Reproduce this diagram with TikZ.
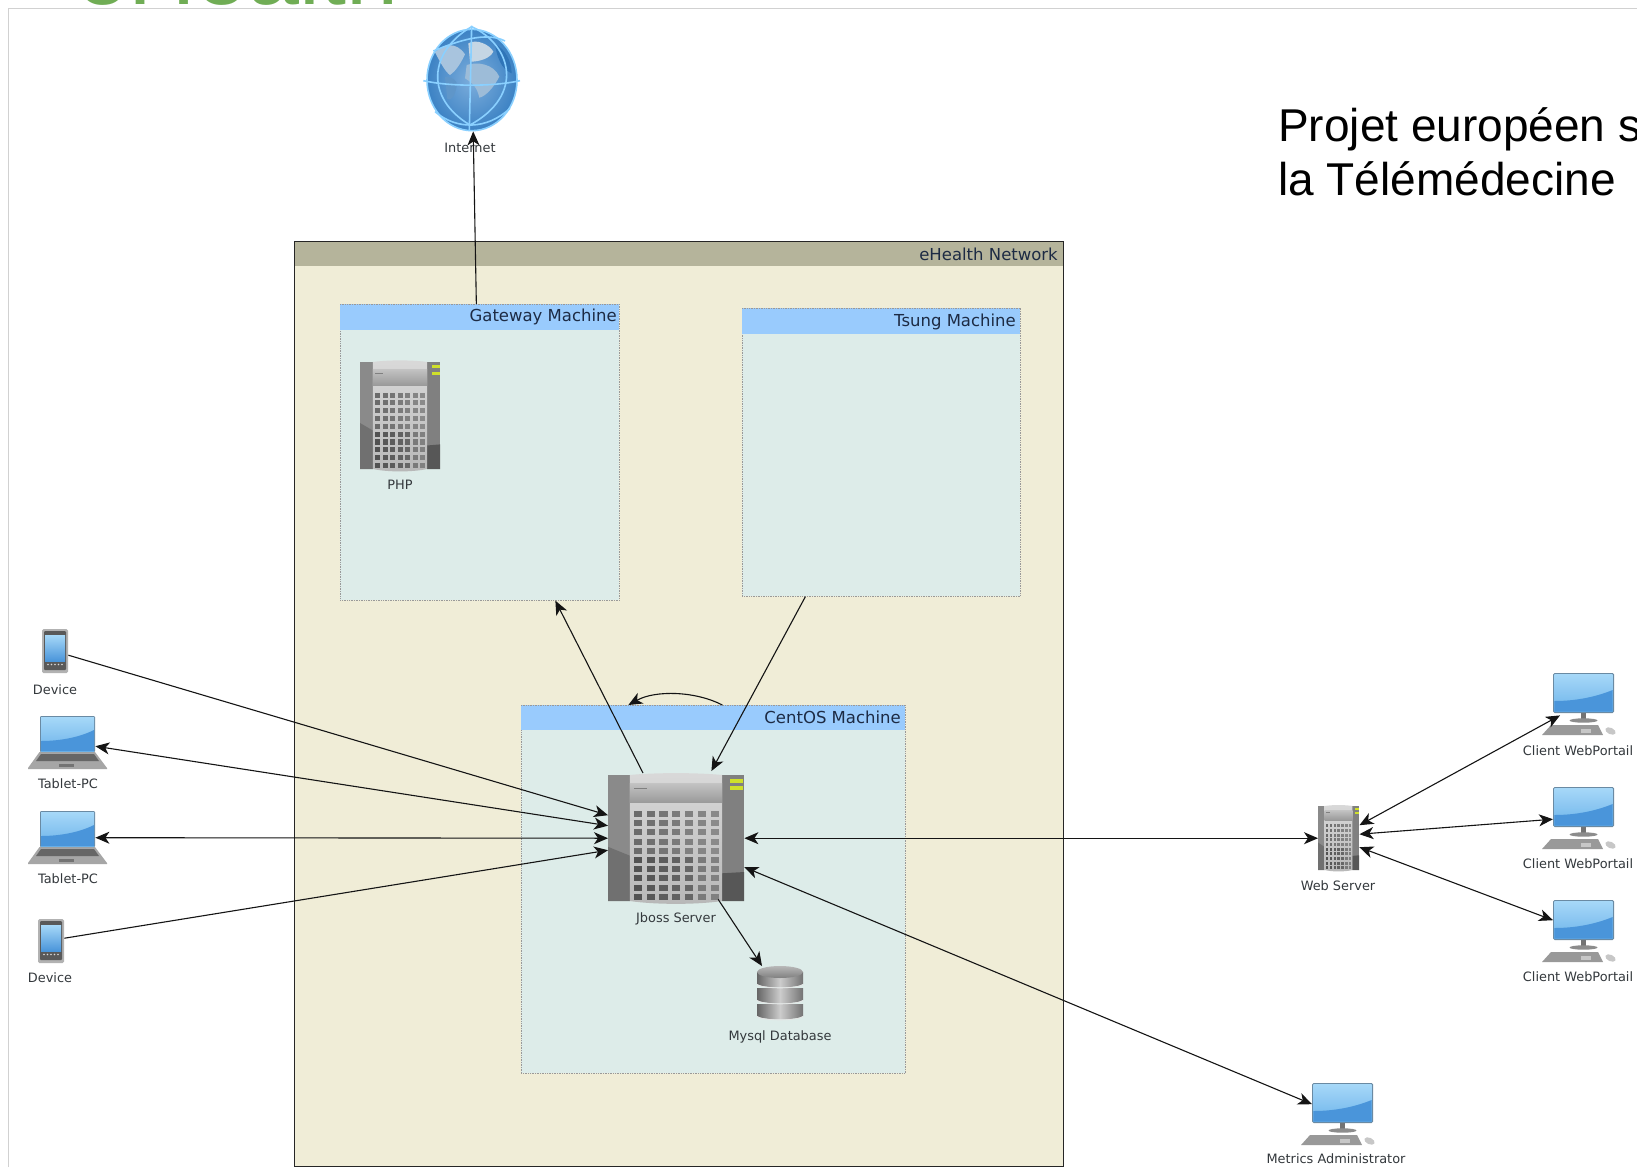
\documentclass[tikz,border=0pt]{standalone}
\usepackage{fontspec}
\setmainfont{Liberation Sans}
\newfontfamily\lblfont{DejaVu Sans}
\usetikzlibrary{arrows.meta,calc}
\definecolor{netbg}{HTML}{F0EDD7}
\definecolor{nethd}{HTML}{B5B49B}
\definecolor{machbg}{HTML}{DDECE9}
\definecolor{machhd}{HTML}{99CBFD}
\definecolor{lbltxt}{HTML}{33383C}
\definecolor{hdrtxt}{HTML}{1D2B44}
\definecolor{linkc}{HTML}{141414}
\definecolor{scrTop}{HTML}{A6D8F8}
\definecolor{scrBot}{HTML}{6DB3EA}
\definecolor{scrLow}{HTML}{4A95DA}
\definecolor{scrEdge}{HTML}{6A8AA3}
\definecolor{ehgreen}{HTML}{70AD55}
\definecolor{ledc}{HTML}{CFE02A}
\definecolor{gbIn}{HTML}{7DAEDC}
\definecolor{gbOut}{HTML}{3C82C4}
\definecolor{gbLine}{HTML}{8AD0FF}
\definecolor{gbAf}{HTML}{9DBCD8}
\definecolor{gbEu}{HTML}{C5D6E4}
\definecolor{gbNa}{HTML}{A8C4DE}
\definecolor{gbSa}{HTML}{5F96C9}
\definecolor{gbAs}{HTML}{2F75B8}
\tikzset{
  netbox/.style={draw=black!85,line width=1pt,fill=netbg,minimum width=#1,inner sep=0pt,anchor=north west},
  machbox/.style={draw=black!40,densely dotted,line width=.7pt,fill=machbg,inner sep=0pt,anchor=north west},
  hdrbar/.style={inner sep=0pt,anchor=north west},
  machbar/.style={fill=machhd,inner sep=0pt,anchor=north west},
  machedge/.style={draw=black!40,densely dotted,line width=.7pt},
  hdrtext/.style={font=\lblfont\fontsize{16.5}{18}\selectfont,text=hdrtxt,anchor=east,inner sep=0pt},
  lbl/.style={font=\lblfont\fontsize{12.9}{15}\selectfont,text=lbltxt,inner sep=0pt},
  iconbox/.style={inner sep=0pt,anchor=north west},
  link/.style={draw=linkc,line width=1.1pt,-{Stealth[length=14pt,width=12pt,inset=4pt]}},
  dlink/.style={draw=linkc,line width=1.1pt,{Stealth[length=14pt,width=12pt,inset=4pt]}-{Stealth[length=14pt,width=12pt,inset=4pt]}},
  slide/.style={font=\fontsize{46}{54}\selectfont,text=black,inner sep=0pt,anchor=base west},
  gbstroke/.style={draw=gbLine,line width=1.6pt},
}
% server icon drawn in a 100x100 box
\newcommand\servericon[5]{%
  \node[iconbox,minimum width=#4pt,minimum height=#5pt] (#1) at (#2,#3) {};
  \begin{scope}[shift={(#2,#3)},xscale=#4/100,yscale=#5/100]
    \fill[black!46] (0,0) rectangle (16,100);
    \fill[black!56] (0,57) -- (16,64) -- (16,100) -- (0,100) -- cycle;
    \fill[black!50] (84,0) rectangle (100,100);
    \fill[black!66] (84,78) -- (100,77) -- (100,100) -- (84,100) -- cycle;
    \shade[top color=black!15,bottom color=black!28] (16,0) .. controls (35,-2) and (65,-2) .. (84,0) -- (84,100) .. controls (65,103) and (35,103) .. (16,100) -- cycle;
    \shade[top color=black!24,bottom color=black!40] (16,7) rectangle (84,22);
    \fill[black!50] (19,10) rectangle (29,11.2);
    \foreach \i in {0,...,6}{
      \foreach \j in {0,...,9}{
        \pgfmathsetmacro\shadeval{58-2.0*\i+(\j>4?10:0)-(\j>4&&\i>4?6:0)}
        \fill[black!\shadeval] ({19+9.4*\i},{28.5+7.3*\j}) rectangle ++(6,4.8);
      }
    }
    \fill[ledc] (90,3) rectangle (99.5,6);
    \fill[ledc] (90,9) rectangle (99.5,12);
  \end{scope}
}
% desktop: the node is the screen (61 x 40); stand, keyboard and mouse hang below it
\newcommand\desktopicon[3]{%
  \node[iconbox,minimum width=61pt,minimum height=40pt] (#1) at (#2,#3) {};
  \begin{scope}[shift={(#2,#3)}]
    \fill[black!55] (28,40) rectangle (33,47);
    \fill[black!45] (30.5,47.5) ellipse (14 and 2.2);
    \fill[black!40] (-2,52) -- (45,52) -- (50,62) -- (-11,62) -- cycle;
    \fill[black!22] (38,56) rectangle (28,60);
    \fill[black!22,rotate around={-25:(57.5,58)}] (57.5,58) ellipse (5.5 and 3.2);
    \fill[rounded corners=1.5pt,fill=scrEdge] (0,0) rectangle (61,40);
    \shade[top color=scrTop,bottom color=scrBot] (1.3,1.3) rectangle (59.7,38.7);
    \fill[scrLow] (1.3,28) .. controls (20,28) and (40,25) .. (59.7,17) -- (59.7,38.7) -- (1.3,38.7) -- cycle;
  \end{scope}
}
% laptop in a 79 x 53 box
\newcommand\laptopicon[3]{%
  \node[iconbox,minimum width=79pt,minimum height=53pt] (#1) at (#2,#3) {};
  \begin{scope}[shift={(#2,#3)}]
    \fill[black!35] (11.5,36) -- (67,36) -- (79,52) -- (79,53) -- (0,53) -- (0,52) -- cycle;
    \fill[black!60] (13,38) -- (66,38) -- (71,45) -- (8,45) -- cycle;
    \fill[black!55] (31,47.5) rectangle (46,51);
    \fill[rounded corners=1pt,fill=scrEdge] (12,0) rectangle (67,36);
    \shade[top color=scrTop,bottom color=scrBot] (13,1) rectangle (66,35);
    \fill[scrLow] (13,25) .. controls (30,25) and (50,22) .. (66,14) -- (66,35) -- (13,35) -- cycle;
  \end{scope}
}
% phone in a 26 x 44 box
\newcommand\phoneicon[3]{%
  \node[iconbox,minimum width=26pt,minimum height=44pt] (#1) at (#2,#3) {};
  \begin{scope}[shift={(#2,#3)}]
    \fill[rounded corners=1.5pt,black!30] (0,0) rectangle (26,44);
    \fill[rounded corners=1pt,black!65] (2,2) rectangle (24,41);
    \shade[top color=scrTop,bottom color=scrLow] (3,6) rectangle (23,32);
    \foreach \k in {0,...,4}{\fill[white!85!black] ({6+3.5*\k},35.5) circle (.8);}
  \end{scope}
}
% database in a 46 x 55 box
\newcommand\dbicon[3]{%
  \node[iconbox,minimum width=46pt,minimum height=55pt] (#1) at (#2,#3) {};
  \begin{scope}[shift={(#2,#3)}]
    \foreach \tt in {38,22,6}{
      \shade[left color=black!60,right color=black!55,middle color=black!20]
        (0,\tt) -- (46,\tt) -- (46,\tt+12) .. controls (40,\tt+16.5) and (6,\tt+16.5) .. (0,\tt+12) -- cycle;
      \draw[black!10,line width=.8pt] (46,\tt+12.5) .. controls (40,\tt+17) and (6,\tt+17) .. (0,\tt+12.5);
    }
    \shade[top color=black!28,bottom color=black!50] (23,6) ellipse (23 and 6);
  \end{scope}
}
\begin{document}
\begin{tikzpicture}[x=1pt,y=-1pt]
\useasboundingbox (0,0) rectangle (1637,1167);
\fill[white] (0,0) rectangle (1637,1167);

% slide furniture
\node[font=\fontsize{93.5}{94}\selectfont,text=ehgreen,inner sep=0pt,anchor=base west] (title) at (76,5) {eHealth};
\draw[black!18,line width=1pt] (8,1167) -- (8,8) -- (1637,8);
\node[slide] (slideone) at (1278,141) {Projet européen s};
\node[slide] (slidetwo) at (1278,195) {la Télémédecine};

% network container
\node[netbox=769pt,minimum height=925pt] (net) at (294,241) {};
\node[hdrbar,fill=nethd,minimum width=768pt,minimum height=24pt] (nethead) at (294.5,241.5) {};
\node[hdrtext] (nettitle) at (1058,254) {eHealth Network};

% machines
\node[machbox,minimum width=279pt,minimum height=296pt] (gw) at (340,304) {};
\node[machbar,minimum width=279pt,minimum height=26pt] (gwhead) at (340,304) {};
\draw[machedge] (gw.north west) -- (gw.north east);
\node[hdrtext] (gwtitle) at (617,317) {Gateway Machine};

\node[machbox,minimum width=278pt,minimum height=288pt] (tsung) at (742,308) {};
\node[machbar,minimum width=278pt,minimum height=26pt] (tsunghead) at (742,308) {};
\draw[machedge] (tsung.north west) -- (tsung.north east);
\node[hdrtext] (tsungtitle) at (1016,322) {Tsung Machine};

\node[machbox,minimum width=384pt,minimum height=368pt] (cent) at (521,705) {};
\node[machbar,minimum width=384pt,minimum height=25pt] (centhead) at (521,705) {};
\draw[machedge] (cent.north west) -- (cent.north east);
\node[hdrtext] (centtitle) at (901,717) {CentOS Machine};

% globe
\node[iconbox,minimum width=90pt,minimum height=104pt] (globe) at (427,27) {};
\begin{scope}[shift={(410,15)},xscale=1/3,yscale=1/3]
  \shade[inner color=gbIn,outer color=gbOut] (186,195) ellipse (135 and 152);
  \fill[gbNa] (75,112) .. controls (100,85) and (140,80) .. (165,118) .. controls (150,150) and (135,170) .. (120,180) .. controls (105,170) and (90,140) .. (75,112) -- cycle;
  \fill[gbEu] (175,85) .. controls (200,70) and (240,90) .. (250,110) .. controls (240,130) and (210,140) .. (180,140) -- cycle;
  \fill[gbAf] (170,150) .. controls (200,140) and (250,145) .. (268,185) .. controls (250,220) and (225,245) .. (208,248) .. controls (200,210) and (180,200) .. (165,190) -- cycle;
  \fill[gbSa] (105,186) .. controls (125,185) and (145,195) .. (140,215) .. controls (135,240) and (125,260) .. (112,252) -- cycle;
  \fill[gbAs] (255,88) .. controls (285,100) and (305,140) .. (305,175) .. controls (285,165) and (265,150) .. (255,88) -- cycle;
  \draw[gbstroke] (40,197) .. controls (120,215) and (250,215) .. (330,197);
  \draw[gbstroke] (185,32) -- (178,345);
  \draw[gbstroke] (185,35) .. controls (55,110) and (45,250) .. (180,330);
  \draw[gbstroke] (185,35) .. controls (305,90) and (345,240) .. (180,330);
  \draw[gbstroke] (70,108) .. controls (150,75) and (230,50) .. (285,78);
  \draw[gbstroke] (75,290) .. controls (140,345) and (230,345) .. (300,280);
  \draw[gbstroke] (186,195) ellipse (135 and 152);
\end{scope}
\node[lbl] (internetl) at (470,148) {Internet};

% servers and database
\servericon{php}{360}{362}{80}{107}
\node[lbl] (phpl) at (400,484.5) {PHP};
\servericon{jboss}{608}{775}{136}{126}
\node[lbl] (jbossl) at (676,919) {Jboss Server};
\dbicon{mysql}{757}{966}
\node[lbl] (mysqll) at (780,1037) {Mysql Database};
\servericon{web}{1318}{806}{41}{64}
\node[lbl] (webl) at (1338,886) {Web Server};

% left devices
\phoneicon{devone}{42}{629}
\node[lbl] (devonel) at (55,690) {Device};
\laptopicon{tabone}{28}{716}
\node[lbl] (tabonel) at (68,784) {Tablet-PC};
\laptopicon{tabtwo}{28}{811}
\node[lbl] (tabtwol) at (68,879) {Tablet-PC};
\phoneicon{devtwo}{38}{919}
\node[lbl] (devtwol) at (50,978) {Device};

% right clients
\desktopicon{cone}{1553}{673}
\node[lbl] (conel) at (1578,751) {Client WebPortail};
\desktopicon{ctwo}{1553}{787}
\node[lbl] (ctwol) at (1578,864) {Client WebPortail};
\desktopicon{cthree}{1553}{900}
\node[lbl] (cthreel) at (1578,977) {Client WebPortail};
\desktopicon{metrics}{1312}{1083}
\node[lbl] (metricsl) at (1336,1159) {Metrics Administrator};

% connectors
\draw[link] ([xshift=-3.5pt]gw.north) -- ([xshift=1pt]globe.south);
\draw[link] ([xshift=35pt,yshift=2pt]jboss.north west) -- ([xshift=75.5pt]gw.south);
\draw[link] ([xshift=-76pt]tsung.south) -- ([xshift=-33pt,yshift=4pt]jboss.north east);
\draw[link] ([xshift=9pt]cent.north) .. controls ([xshift=-18pt,yshift=14pt]cent.north) and ([xshift=-58pt,yshift=15pt]cent.north) .. ([xshift=-85pt]cent.north);
\draw[link] ([yshift=-4pt]devone.east) -- ([yshift=23pt]jboss.west);
\draw[dlink] ([xshift=-12pt,yshift=-3.5pt]tabone.east) -- ([yshift=12.5pt]jboss.west);
\draw[dlink] ([xshift=-12pt]tabtwo.east) -- (jboss.west);
\draw[link] ([yshift=3pt]devtwo.east) -- ([yshift=-12pt]jboss.west);
\draw[dlink] (jboss.east) -- (web.west);
\draw[dlink] ([yshift=-29pt]jboss.east) -- ([yshift=-1pt]metrics.west);
\draw[link] ([xshift=42pt,yshift=2pt]jboss.south) -- ([xshift=5pt]mysql.north west);
\draw[dlink] ([yshift=13pt]web.east) -- ([xshift=7pt,yshift=-2pt]cone.south west);
\draw[dlink] ([yshift=4pt]web.east) -- ([yshift=-12pt]ctwo.west);
\draw[dlink] ([yshift=-9pt]web.east) -- (cthree.west);
\end{tikzpicture}
\end{document}
